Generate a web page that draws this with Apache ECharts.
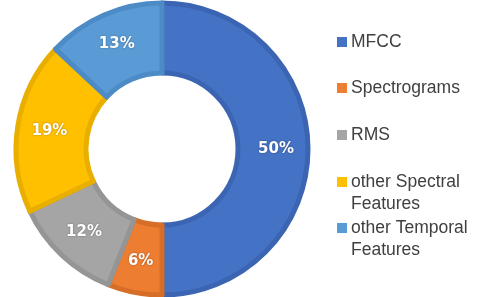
<!DOCTYPE html>
<html>
<head>
<meta charset="utf-8">
<script src="https://cdn.jsdelivr.net/npm/echarts@6/dist/echarts.min.js"></script>
<style>html,body{margin:0;padding:0;background:#fff;}#c{width:480px;height:297px;}</style>
</head>
<body>
<div id="c"></div>
<script>
const categories = ['MFCC', 'Spectrograms', 'RMS', 'other Spectral Features', 'other Temporal Features'];
const values = [50, 6, 12, 19, 13];
const colors = ['#4472C4', '#ED7D31', '#A5A5A5', '#FFC000', '#5B9BD5'];
const borderColors = ['#3B65B2', '#D66E27', '#959595', '#E8AE00', '#4C8BC6'];

const legendTops = [31, 77, 124, 171, 217];
const twoLineIcon = 'path://M0,6h10v10h-10z M0,0h0.01v0.01h-0.01z M0,44h0.01v-0.01h-0.01z';

const chart = echarts.init(document.getElementById('c'), null, {renderer: 'canvas'});
const legends = categories.map((name, i) => {
  const twoLine = name.indexOf(' Features') > 0;
  return {
    data: [{name: name, icon: twoLine ? twoLineIcon : 'rect'}],
    orient: 'vertical',
    left: 337,
    top: legendTops[i],
    padding: 0,
    itemWidth: 10,
    itemHeight: twoLine ? 44 : 10,
    itemGap: 0,
    selectedMode: false,
    itemStyle: {borderWidth: 0},
    formatter: n => n.replace(' Features', '\nFeatures'),
    textStyle: {
      fontFamily: 'Liberation Sans',
      fontSize: 17.5,
      lineHeight: 22,
      color: '#404040',
      padding: [0, 0, 0, -1]
    }
  };
});

chart.setOption({
  animation: false,
  color: colors,
  legend: legends,
  series: [{
    type: 'pie',
    center: [162, 149],
    radius: [76, 146],
    startAngle: 90,
    clockwise: true,
    avoidLabelOverlap: false,
    label: {
      show: true,
      position: 'inside',
      formatter: '{c}%',
      color: '#fff',
      fontFamily: 'DejaVu Sans',
      fontWeight: 'bold',
      fontSize: 15,
      textShadowColor: 'rgba(0,0,0,0.35)',
      textShadowBlur: 2
    },
    labelLine: {show: false},
    emphasis: {disabled: true},
    data: categories.map((name, i) => ({
      name: name,
      value: values[i],
      itemStyle: {color: colors[i], borderColor: borderColors[i], borderWidth: 5}
    }))
  }]
});
</script>
</body>
</html>
